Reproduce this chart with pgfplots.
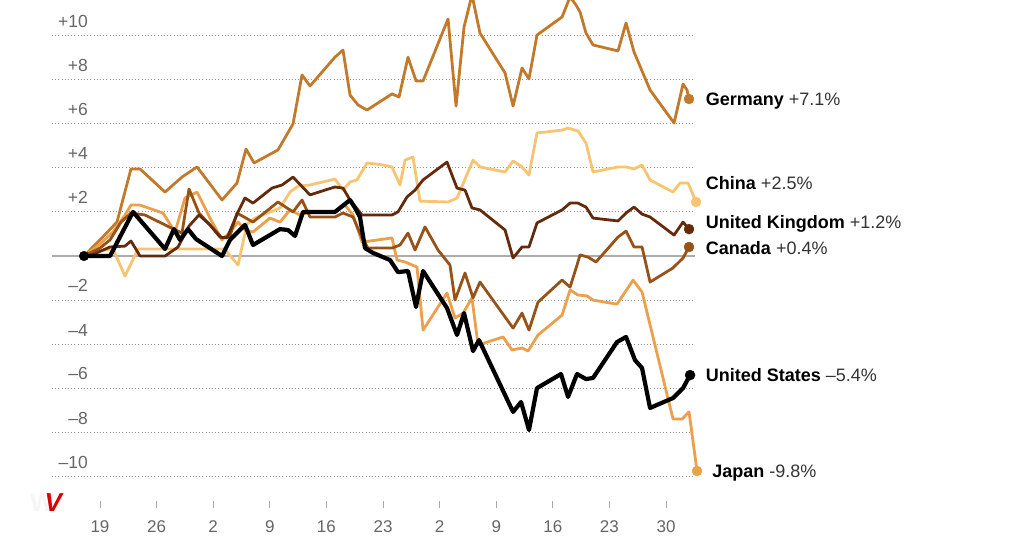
\documentclass[border=0pt]{standalone}
\usepackage{pgfplots}
\pgfplotsset{compat=1.18}
\usepackage{fontspec}
\setmainfont{Liberation Sans}
\definecolor{cGer}{HTML}{C27A2A}
\definecolor{cChi}{HTML}{F7C572}
\definecolor{cUK}{HTML}{642A0C}
\definecolor{cCan}{HTML}{975218}
\definecolor{cJap}{HTML}{EBA04B}
\definecolor{tick}{HTML}{666666}
\definecolor{val}{HTML}{333333}
\begin{document}
\begin{tikzpicture}[x=1pt,y=1pt]
\useasboundingbox (0,0) rectangle (1024,535);
\begin{axis}[
  at={(52pt,34.2pt)}, anchor=south west,
  scale only axis, width=643pt, height=500.8pt,
  xmin=-5.936, xmax=73.58, ymin=-11.1, ymax=11.61,
  clip=false,
  axis line style={draw=none},
  xtick={0,7,14,21,28,35,42,49,56,63,70},
  xticklabels={19,26,2,9,16,23,2,9,16,23,30},
  xtick pos=bottom, tick align=outside,
  x tick style={draw=gray!70, line width=1pt},
  major tick length=7pt,
  xticklabel style={font=\fontsize{17}{19}\selectfont, text=tick, anchor=north, inner sep=0pt, yshift=-13pt},
  ytick={-10,-8,-6,-4,-2,2,4,6,8,10},
  yticklabels={\textendash10,\textendash8,\textendash6,\textendash4,\textendash2,+2,+4,+6,+8,+10},
  ytick pos=left,
  y tick style={draw=none},
  yticklabel style={font=\fontsize{17.5}{19}\selectfont, text=tick, anchor=south east, inner sep=0pt, xshift=43pt, yshift=8pt},
  ymajorgrids,
  major grid style={draw=gray!85, line width=1pt, dash pattern=on 1pt off 2.2pt},
  extra y ticks={0}, extra y tick labels={},
  extra y tick style={major grid style={solid, draw=gray!65, line width=1.5pt}},
  every axis plot/.append style={line join=round, line cap=round},
]
% Germany
\addplot[cGer, line width=2.8pt] coordinates {
(-1.98,0) (0,0.73) (2.10,1.54) (3.83,3.95) (4.95,3.95) (8.04,2.90) (10.14,3.58) (12.0,4.04)
(15.09,2.54) (16.94,3.31) (18.06,4.85) (19.05,4.22) (22.01,4.81) (23.87,5.99) (24.98,8.21)
(25.97,7.71) (29.06,9.02) (30.05,9.34) (30.92,7.30) (31.91,6.85) (33.02,6.62) (36.11,7.35)
(36.98,7.21) (38.09,9.02) (39.08,7.94) (39.95,7.94) (43.04,10.75) (44.03,6.80) (45.02,10.39)
(46.0,11.84) (46.99,10.11) (50.09,8.30) (51.08,6.80) (52.19,8.53) (53.05,8.03) (54.04,10.02)
(57.14,10.84) (58.13,11.75) (58.87,11.38) (59.36,11.07) (60.10,10.11) (60.97,9.57) (64.06,9.30)
(65.05,10.57) (66.04,9.25) (68.02,7.53) (70.99,6.03) (72.10,7.80) (72.59,7.53) (72.84,7.12)};
% China
\addplot[cChi, line width=2.8pt] coordinates {
(-1.98,0) (-1.24,0.18) (1.61,0.32) (3.09,-0.91) (4.70,0.32) (15.4,0.32) (17.07,-0.41) (18.18,1.45)
(19.17,1.72) (22.26,2.18) (23.50,2.90) (24.49,3.17) (25.97,3.22) (29.06,3.49) (30.05,2.99)
(30.92,3.36) (31.78,3.45) (33.02,4.22) (35.0,4.13) (36.11,4.04) (37.10,3.22) (37.72,4.35)
(38.71,4.49) (39.57,2.49) (43.04,2.45) (44.15,2.63) (46.13,4.35) (46.99,4.04) (50.09,3.81)
(51.08,4.31) (52.19,4.04) (53.05,3.67) (54.04,5.58) (57.14,5.71) (57.88,5.80) (59.11,5.67)
(60.10,5.12) (60.97,3.81) (64.06,4.04) (65.05,4.04) (66.04,3.95) (67.03,4.13) (68.02,3.45)
(70.86,2.90) (71.73,3.31) (72.72,3.31) (73.71,2.45)};
% Japan
\addplot[cJap, line width=2.8pt] coordinates {
(-1.98,0) (0,0.54) (1.61,1.09) (3.09,1.86) (3.83,2.31) (4.95,2.31) (7.79,1.95) (9.28,1.09)
(10.51,2.63) (12.0,2.90) (13.60,1.72) (15.09,0.73) (16.08,1.09) (17.07,1.54) (17.93,1.18)
(18.92,1.09) (21.02,1.72) (22.26,1.54) (23.50,2.09) (24.73,1.86) (25.97,2.0) (29.06,2.0)
(30.30,2.31) (31.29,1.86) (32.40,0.63) (36.11,0.82) (36.73,-0.18) (37.72,-0.27) (39.20,-0.50)
(39.95,-3.36) (42.91,-1.68) (43.90,-2.81) (44.90,-2.59) (46.0,-1.90) (46.75,-4.04) (49.84,-3.67)
(50.95,-4.26) (52.19,-4.17) (52.93,-4.31) (54.17,-3.58) (57.14,-2.68) (58.13,-1.54) (59.11,-1.77)
(60.23,-1.81) (60.97,-2.0) (63.94,-2.18) (65.92,-1.09) (67.03,-1.63) (70.86,-7.39) (71.98,-7.39)
(72.84,-7.07) (73.83,-9.75)};
% Canada
\addplot[cCan, line width=2.8pt] coordinates {
(-1.98,0) (0,0.36) (1.24,0.73) (2.60,1.54) (3.83,1.95) (5.57,1.86) (8.04,1.41) (10.14,1.04)
(11.01,3.04) (12.24,1.95) (13.60,1.41) (15.09,0.82) (16.08,0.91) (16.94,1.95) (18.92,1.54)
(22.01,2.45) (23.87,2.0) (24.98,2.54) (25.97,1.77) (29.06,1.77) (30.05,1.95) (31.29,1.77)
(32.40,0.82) (33.14,0.36) (36.11,0.36) (37.10,0.50) (38.09,1.04) (38.96,0.27) (40.19,1.32)
(41.80,0.27) (43.28,-0.41) (43.90,-2.0) (45.14,-0.77) (46.13,-1.90) (46.99,-1.18) (51.08,-3.27)
(52.19,-2.59) (53.05,-3.36) (54.17,-2.09) (57.14,-1.09) (58.13,-1.41) (58.99,-0.41) (59.36,0.05)
(60.35,-0.05) (61.34,-0.27) (64.06,0.86) (65.05,1.13) (66.04,0.41) (67.03,0.41) (68.02,-1.18)
(70.86,-0.54) (72.10,-0.09) (72.84,0.41)};
% United Kingdom
\addplot[cUK, line width=2.8pt] coordinates {
(-1.98,0) (-0.99,0.05) (1.24,0.41) (3.09,0.45) (3.83,0.68) (4.95,0) (8.04,0) (9.65,0.41)
(11.01,1.36) (12.24,1.86) (13.60,1.41) (14.84,0.86) (15.71,0.82) (17.07,2.0) (17.93,2.63)
(18.92,2.40) (21.27,3.08) (22.51,3.22) (23.87,3.58) (25.97,2.77) (27.83,2.99) (29.06,3.13)
(30.05,3.08) (30.92,2.54) (32.40,1.86) (36.11,1.86) (36.85,2.0) (37.97,2.68) (38.96,2.99)
(39.95,3.45) (42.91,4.26) (44.15,3.08) (45.14,2.99) (46.0,2.18) (46.99,2.09) (50.09,1.18)
(51.08,-0.09) (52.19,0.41) (53.05,0.41) (54.04,1.50) (57.14,2.09) (58.13,2.40) (59.11,2.40)
(60.10,2.22) (60.97,1.72) (64.06,1.59) (65.05,1.95) (66.04,2.22) (67.03,1.90) (68.02,1.77)
(70.99,0.95) (72.10,1.54) (72.84,1.22)};
% United States
\addplot[black, line width=4.2pt] coordinates {
(-1.98,0) (1.24,0) (4.08,2.0) (8.04,0.32) (9.15,1.22) (9.89,0.73) (10.88,1.22) (11.87,0.77)
(15.09,0) (16.08,0.73) (17.93,1.41) (18.92,0.50) (22.26,1.22) (23.25,1.18) (24.12,0.91)
(25.11,2.0) (29.06,2.0) (30.92,2.54) (31.54,2.18) (32.15,1.77) (32.77,0.36) (33.76,0.14)
(35.86,-0.18) (36.85,-0.73) (38.09,-0.68) (39.08,-2.31) (39.95,-0.68) (42.91,-2.36)
(44.15,-3.58) (45.02,-2.59) (46.13,-4.31) (46.87,-3.81) (51.08,-7.07) (52.07,-6.62)
(53.05,-7.89) (54.04,-5.99) (57.01,-5.35) (57.88,-6.39) (58.99,-5.35) (60.10,-5.58)
(60.97,-5.53) (63.94,-3.90) (65.05,-3.67) (66.16,-4.72) (67.03,-5.08) (68.02,-6.89)
(70.86,-6.44) (72.10,-5.99) (72.97,-5.40)};
% start and end dots
\addplot[only marks, mark=*, mark size=4.8pt, black] coordinates {(-1.98,0)};
\addplot[only marks, mark=*, mark size=5pt, cGer, mark options={draw=cGer,fill=cGer}] coordinates {(72.84,7.12)};
\addplot[only marks, mark=*, mark size=5pt, cChi, mark options={draw=cChi,fill=cChi}] coordinates {(73.71,2.45)};
\addplot[only marks, mark=*, mark size=5pt, cUK, mark options={draw=cUK,fill=cUK}] coordinates {(72.84,1.22)};
\addplot[only marks, mark=*, mark size=5pt, cCan, mark options={draw=cCan,fill=cCan}] coordinates {(72.84,0.41)};
\addplot[only marks, mark=*, mark size=5pt, black] coordinates {(72.97,-5.40)};
\addplot[only marks, mark=*, mark size=5pt, cJap, mark options={draw=cJap,fill=cJap}] coordinates {(73.83,-9.75)};
% labels
\tikzset{lab/.style={anchor=west, inner sep=0pt, font=\fontsize{18}{21}\selectfont}}
\node[lab] at (axis cs:74.9,7.03) {\textbf{Germany} \textcolor{val}{+7.1\%}};
\node[lab] at (axis cs:74.9,3.31) {\textbf{China} \textcolor{val}{+2.5\%}};
\node[lab] at (axis cs:74.9,1.45) {\textbf{United Kingdom} \textcolor{val}{+1.2\%}};
\node[lab] at (axis cs:74.9,0.36) {\textbf{Canada} \textcolor{val}{+0.4\%}};
\node[lab] at (axis cs:74.9,-5.40) {\textbf{United States} \textcolor{val}{\textendash5.4\%}};
\node[lab] at (axis cs:75.69,-9.84) {\textbf{Japan} \textcolor{val}{-9.8\%}};
\end{axis}
\node[anchor=center, font=\fontsize{26}{26}\selectfont\bfseries] at (46,32) {\textcolor{gray!8}{W}\kern-10pt\textcolor{red!85!black}{\itshape V}};
\end{tikzpicture}
\end{document}
